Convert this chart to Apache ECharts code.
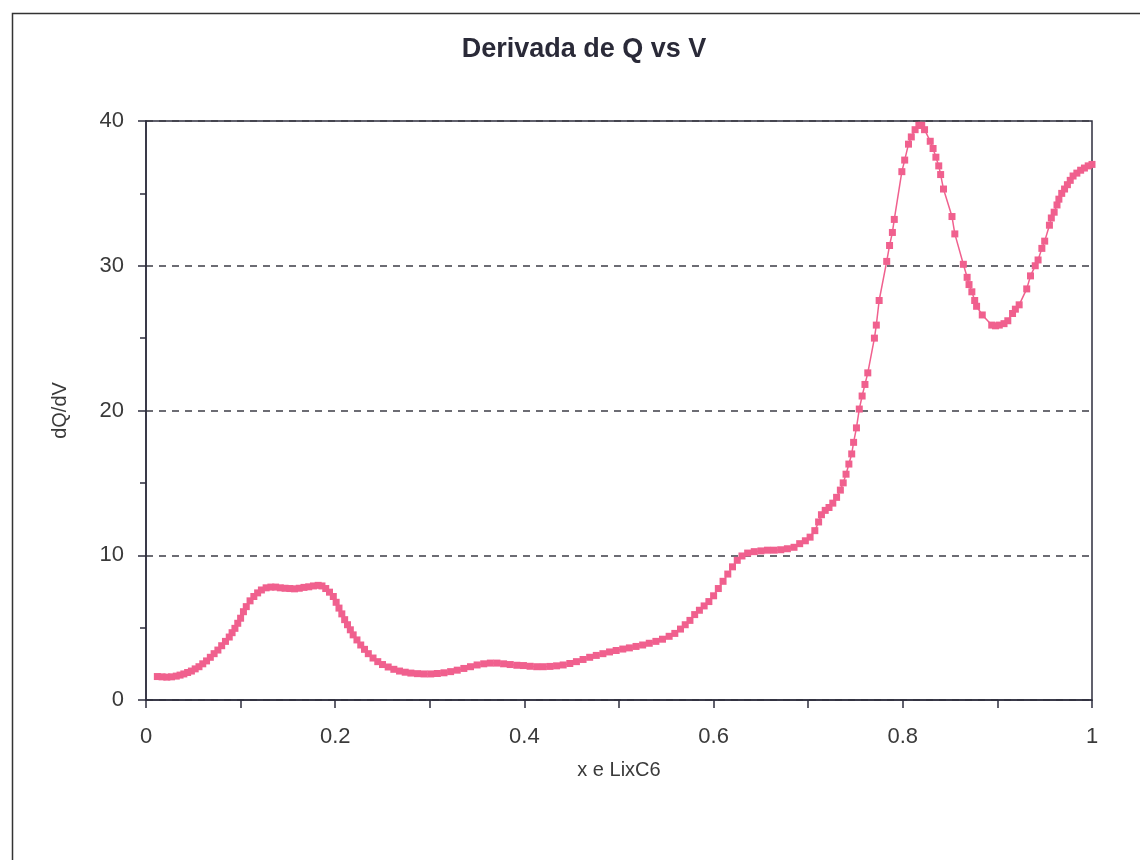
<!DOCTYPE html>
<html>
<head>
<meta charset="utf-8">
<script src="https://cdn.jsdelivr.net/npm/echarts@6/dist/echarts.min.js"></script>
<style>
html,body{margin:0;padding:0;background:#fff;}
#chart{width:1140px;height:860px;}
</style>
</head>
<body>
<div id="chart"></div>
<script>
const titleText = "Derivada de Q vs V";
const xAxisName = "x e LixC6";
const yAxisName = "dQ/dV";

const xValues = [
0.012,0.017,0.022,0.027,0.032,0.036,0.040,0.044,0.048,0.052,0.056,0.060,0.064,0.068,0.072,0.076,0.080,0.084,0.088,0.091,0.094,0.097,0.100,0.103,0.106,0.110,0.114,0.118,0.122,0.127,0.132,0.137,0.142,0.147,0.152,0.157,0.162,0.167,0.172,0.177,0.182,0.186,0.190,0.194,0.198,0.201,0.204,0.207,0.210,0.213,0.216,0.219,0.223,0.227,0.231,0.235,0.240,0.245,0.250,0.256,0.262,0.268,0.274,0.280,0.287,0.294,0.301,0.308,0.315,0.322,0.329,0.336,0.343,0.350,0.357,0.364,0.371,0.378,0.385,0.392,0.399,0.406,0.413,0.420,0.427,0.434,0.441,0.448,0.455,0.462,0.469,0.476,0.483,0.490,0.497,0.504,0.511,0.518,0.525,0.532,0.539,0.546,0.553,0.559,0.565,0.570,0.575,0.580,0.585,0.590,0.595,0.600,0.605,0.610,0.615,0.620,0.625,0.630,0.636,0.643,0.650,0.657,0.664,0.671,0.678,0.685,0.691,0.697,0.702,0.707,0.711,0.714,0.718,0.722,0.726,0.730,0.734,0.737,0.740,0.743,0.746,0.748,0.751,0.754,0.757,0.760,0.763,0.770,0.772,0.775,0.783,0.786,0.789,0.791,0.799,0.802,0.806,0.809,0.813,0.817,0.820,0.823,0.829,0.832,0.835,0.838,0.840,0.843,0.852,0.855,0.864,0.868,0.870,0.873,0.876,0.878,0.884,0.894,0.898,0.902,0.907,0.911,0.916,0.919,0.923,0.931,0.935,0.940,0.943,0.947,0.950,0.955,0.957,0.960,0.963,0.965,0.968,0.971,0.974,0.977,0.980,0.984,0.988,0.992,0.996,1.000
];
const yValues = [
1.62,1.60,1.58,1.60,1.65,1.72,1.80,1.90,2.00,2.15,2.30,2.50,2.70,2.95,3.20,3.45,3.75,4.05,4.35,4.65,4.95,5.30,5.65,6.10,6.45,6.85,7.15,7.40,7.60,7.75,7.80,7.80,7.75,7.72,7.70,7.68,7.72,7.78,7.82,7.88,7.92,7.88,7.70,7.45,7.15,6.75,6.35,5.95,5.55,5.20,4.85,4.50,4.15,3.80,3.50,3.20,2.90,2.65,2.45,2.28,2.12,2.00,1.92,1.86,1.82,1.80,1.80,1.83,1.88,1.96,2.06,2.18,2.30,2.42,2.50,2.55,2.55,2.50,2.45,2.40,2.38,2.33,2.30,2.30,2.32,2.36,2.42,2.52,2.65,2.80,2.95,3.08,3.20,3.32,3.42,3.52,3.60,3.70,3.80,3.92,4.05,4.20,4.40,4.60,4.90,5.20,5.50,5.90,6.20,6.50,6.80,7.20,7.70,8.20,8.70,9.20,9.65,9.95,10.15,10.25,10.30,10.35,10.35,10.38,10.45,10.55,10.80,11.00,11.25,11.70,12.30,12.80,13.10,13.30,13.60,14.00,14.50,15.00,15.60,16.30,17.00,17.80,18.80,20.10,21.00,21.80,22.60,25.00,25.90,27.60,30.30,31.40,32.30,33.20,36.50,37.30,38.40,38.90,39.40,39.70,39.70,39.40,38.60,38.10,37.50,36.90,36.30,35.30,33.40,32.20,30.10,29.20,28.70,28.20,27.60,27.20,26.60,25.90,25.85,25.90,26.00,26.20,26.70,27.00,27.30,28.40,29.30,30.00,30.40,31.20,31.70,32.80,33.30,33.70,34.20,34.60,35.00,35.30,35.60,35.90,36.20,36.40,36.60,36.75,36.90,37.00
];

const seriesData = xValues.map((x, i) => [x, yValues[i]]);

const axisColor = '#2e2e3e';
const textColor = '#3a3a3a';
const fontFam = '"Liberation Sans", Arial, sans-serif';

const chart = echarts.init(document.getElementById('chart'), null, {renderer: 'canvas'});
chart.setOption({
  backgroundColor: '#ffffff',
  animation: false,
  title: {
    text: titleText,
    left: 579,
    top: 31,
    textAlign: 'center',
    textStyle: {fontFamily: fontFam, fontSize: 27, fontWeight: 'bold', color: '#2a2a38'}
  },
  graphic: [{
    type: 'rect',
    shape: {x: 12.5, y: 13.5, width: 1160, height: 880},
    style: {fill: 'none', stroke: '#333', lineWidth: 1.5},
    silent: true
  }],
  grid: {
    left: 146, right: 48, top: 121, bottom: 160,
    show: true, borderColor: axisColor, borderWidth: 1.5, backgroundColor: 'transparent'
  },
  xAxis: {
    type: 'value',
    min: 0, max: 1, interval: 0.2,
    name: xAxisName,
    nameLocation: 'middle',
    nameGap: 60,
    nameTextStyle: {fontFamily: fontFam, fontSize: 20, color: textColor},
    axisLine: {show: true, lineStyle: {color: axisColor, width: 1.5}},
    axisTick: {show: true, length: 8, lineStyle: {color: axisColor, width: 1.5}},
    minorTick: {show: true, splitNumber: 2, length: 8, lineStyle: {color: axisColor, width: 1.5}},
    axisLabel: {margin: 26, fontFamily: fontFam, fontSize: 22, color: textColor},
    splitLine: {show: false}
  },
  yAxis: {
    type: 'value',
    min: 0, max: 40, interval: 10,
    name: yAxisName,
    nameLocation: 'middle',
    nameRotate: 90,
    nameGap: 76,
    nameTextStyle: {fontFamily: fontFam, fontSize: 20, color: textColor},
    axisLine: {show: true, lineStyle: {color: axisColor, width: 1.5}},
    axisTick: {show: true, length: 8, lineStyle: {color: axisColor, width: 1.5}},
    minorTick: {show: true, splitNumber: 2, length: 6, lineStyle: {color: axisColor, width: 1.5}},
    axisLabel: {margin: 22, fontFamily: fontFam, fontSize: 22, color: textColor},
    splitLine: {show: true, lineStyle: {color: '#3c3c46', width: 1.5, type: [7, 6]}}
  },
  series: [{
    type: 'line',
    data: seriesData,
    symbol: 'rect',
    symbolSize: 7,
    showSymbol: true,
    itemStyle: {color: '#F0608E'},
    lineStyle: {color: '#F0608E', width: 1.5},
    clip: false
  }]
});
</script>
</body>
</html>
